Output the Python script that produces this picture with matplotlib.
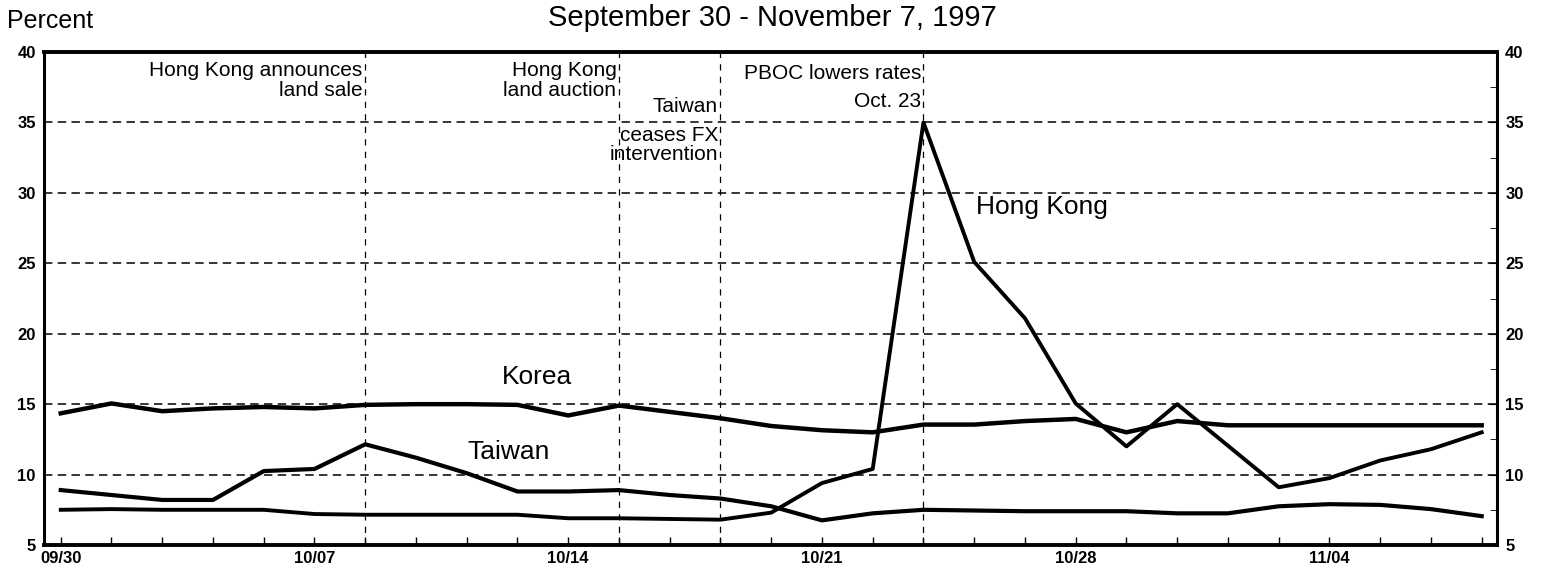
import matplotlib.pyplot as plt
import numpy as np

plt.rcParams['font.family'] = ['Liberation Sans', 'DejaVu Sans']

# business days 09/30 - 11/07 1997
dates = ['09/30', '10/01', '10/02', '10/03', '10/06', '10/07', '10/08', '10/09',
         '10/10', '10/13', '10/14', '10/15', '10/16', '10/17', '10/20', '10/21',
         '10/22', '10/23', '10/24', '10/27', '10/28', '10/29', '10/30', '10/31',
         '11/03', '11/04', '11/05', '11/06', '11/07']

korea = [14.35, 15.05, 14.5, 14.7, 14.8, 14.7, 14.95, 15.0, 15.0, 14.95,
         14.2, 14.9, 14.45, 14.0, 13.45, 13.15, 13.0, 13.55, 13.55, 13.8,
         13.95, 13.0, 13.8, 13.5, 13.5, 13.5, 13.5, 13.5, 13.5]
taiwan = [8.9, 8.55, 8.2, 8.2, 10.25, 10.4, 12.15, 11.2, 10.1, 8.8,
          8.8, 8.9, 8.55, 8.3, 7.75, 6.75, 7.25, 7.5, 7.45, 7.4,
          7.4, 7.4, 7.25, 7.25, 7.75, 7.9, 7.85, 7.55, 7.05]
hong_kong = [7.5, 7.55, 7.5, 7.5, 7.5, 7.2, 7.15, 7.15, 7.15, 7.15,
             6.9, 6.9, 6.85, 6.8, 7.3, 9.4, 10.4, 35.0, 25.1, 21.1,
             15.05, 12.0, 15.0, 12.05, 9.1, 9.75, 11.0, 11.8, 13.0]

events = {'10/08': 'Hong Kong announces\nland sale',
          '10/15': 'Hong Kong\nland auction',
          '10/17': 'Taiwan',
          '10/23': 'PBOC lowers rates\nOct. 23'}

x = np.arange(len(dates))

fig = plt.figure(figsize=(15.44, 5.71), dpi=100)
ax = fig.add_axes([0.0285, 0.0455, 0.941, 0.8634])

for y in [10, 15, 20, 25, 30, 35]:
    ax.axhline(y, color='black', lw=1.1, ls=(0, (5.5, 3.5)), zorder=1)
for d in events:
    ax.axvline(dates.index(d), color='black', lw=0.9, ls=(0, (5, 5)), zorder=1)

ax.plot(x, korea, color='black', lw=3.2, zorder=3)
ax.plot(x, taiwan, color='black', lw=3.0, zorder=3)
ax.plot(x, hong_kong, color='black', lw=2.8, zorder=3)

ax.set_xlim(-0.33, 28.3)
ax.set_ylim(5, 40)

ax.set_xticks(x)
ax.set_xticklabels([d if i % 5 == 0 else '' for i, d in enumerate(dates)],
                   fontsize=12, fontweight='bold')
ax.tick_params(axis='x', direction='in', length=6, width=1, pad=4)

ax.set_yticks(range(5, 41, 5))
ax.set_yticks(np.arange(7.5, 40, 5), minor=True)
ax.tick_params(axis='y', which='both', direction='in', left=False, right=True,
               labelleft=True, labelright=True, labelsize=12, pad=6)
ax.tick_params(axis='y', which='major', length=6)
ax.tick_params(axis='y', which='minor', length=5)
for lab in ax.get_yticklabels():
    lab.set_fontweight('bold')

for s in ax.spines.values():
    s.set_linewidth(2.2)
ax.spines['bottom'].set_linewidth(2.8)
ax.spines['top'].set_linewidth(2.8)

ann = dict(ha='right', va='center', fontsize=15, linespacing=1.05)
ax.text(dates.index('10/08') - 0.05, 38.0, events['10/08'], **ann)
ax.text(dates.index('10/15') - 0.05, 38.0, events['10/15'], **ann)
ax.text(dates.index('10/17') - 0.05, 36.1, events['10/17'], **ann)
ax.text(dates.index('10/17') - 0.05, 33.4, 'ceases FX\nintervention', **ann)
ax.text(dates.index('10/23') - 0.05, 37.5, events['10/23'], ha='right', va='center',
        fontsize=15, linespacing=1.6)

ax.text(9.38, 16.9, 'Korea', ha='center', va='center', fontsize=19)
ax.text(8.83, 11.6, 'Taiwan', ha='center', va='center', fontsize=19)
ax.text(19.33, 29.0, 'Hong Kong', ha='center', va='center', fontsize=19)

fig.text(0.0045, 0.963, 'Percent', ha='left', va='center', fontsize=18)
fig.text(0.5, 0.968, 'September 30 - November 7, 1997', ha='center', va='center',
         fontsize=21)

fig.savefig('out.png', dpi=100)
